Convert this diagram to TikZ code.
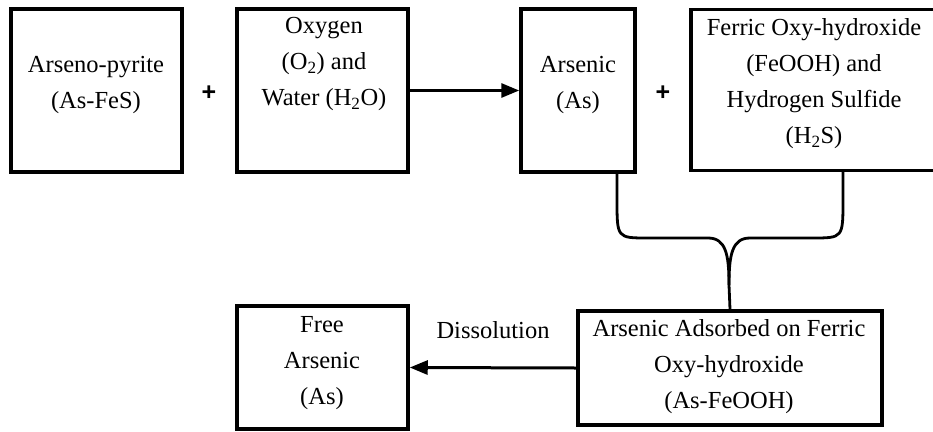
\documentclass[tikz,border=0pt]{standalone}
\usepackage{fontspec}
\setmainfont{Liberation Serif}
\newfontfamily\plusfont{Liberation Sans}
\usetikzlibrary{arrows.meta}
\begin{document}
\begin{tikzpicture}[x=1pt,y=-1pt,
  box/.style={draw,line width=3.5pt,inner sep=0pt,minimum width=#1},
  txt/.style={align=center,font=\fontsize{24.5}{36}\selectfont,inner sep=0pt},
  plus/.style={font=\fontsize{25}{28}\selectfont\plusfont\bfseries,inner sep=0pt},
  arr/.style={line width=3pt,-{Triangle[length=18pt,width=14pt]}},
  brace/.style={line width=2.8pt}]
\useasboundingbox (0,0) rectangle (933,431);
% boxes
\node[box=171pt,minimum height=163pt] (b1) at (96.5,90.5) {};
\node[box=171pt,minimum height=163pt] (b2) at (322.5,90.5) {};
\node[box=114pt,minimum height=163pt] (b3) at (578,90.5) {};
\node[box=246pt,minimum height=161pt] (b4) at (814,90) {};
\node[box=304pt,minimum height=114pt] (b5) at (730,368) {};
\node[box=171pt,minimum height=123pt] (b6) at (322.5,367.5) {};
% texts
\node[txt] (t1) at (96,85) {Arseno-pyrite\\(As-FeS)};
\node[txt] (t2) at (324,64) {Oxygen\\(O\textsubscript{2}) and\\Water (H\textsubscript{2}O)};
\node[txt] (t3) at (578,85) {Arsenic\\(As)};
\node[txt] (t4) at (814,84) {Ferric Oxy-hydroxide\\(FeOOH) and\\Hydrogen Sulfide\\(H\textsubscript{2}S)};
\node[txt] (t5) at (729,367) {Arsenic Adsorbed on Ferric\\Oxy-hydroxide\\(As-FeOOH)};
\node[txt] (t6) at (322,363) {Free\\Arsenic\\(As)};
\node[txt] (lab) at (493,330) {Dissolution};
\node[plus] (p1) at (209,93) {+};
\node[plus] (p2) at (663,93) {+};
% arrows
\draw[arr] (b2.east) -- (b3.west);
\draw[arr] (b5.west) -- (b6.east);
% brace
\coordinate (l) at (617,172);
\coordinate (r) at (843,172);
\draw[brace] (l) -- (617,200) .. controls (617,238) .. (648,238) -- (708,238)
  .. controls (726,238) and (729,255) .. (729,285) -- (b5.north);
\draw[brace] (r) -- (843,200) .. controls (843,238) .. (812,238) -- (750,238)
  .. controls (732,238) and (729,255) .. (729,285);
\end{tikzpicture}
\end{document}
